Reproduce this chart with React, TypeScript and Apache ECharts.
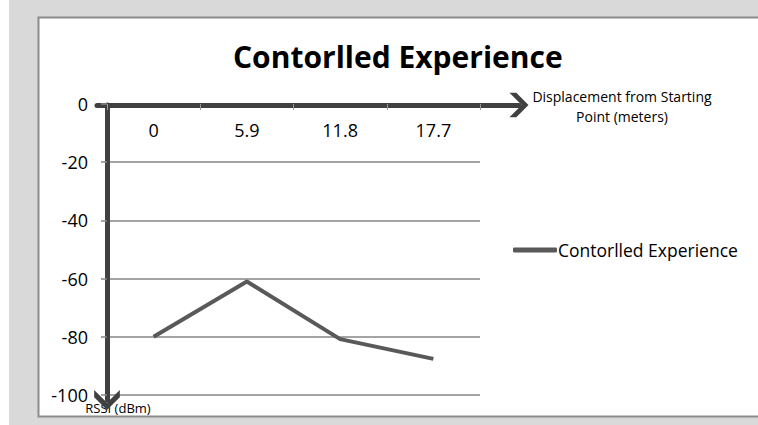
import React, { useEffect, useRef } from "react";
import * as echarts from "echarts";

const categories = ["0", "5.9", "11.8", "17.7"];
const rssiValues = [-80, -61, -80.8, -87.6];
const seriesName = "Contorlled Experience";
const titleText = "Contorlled Experience";
const xAxisName = "Displacement from Starting\nPoint (meters)";
const yAxisName = "RSSI (dBm)";

const FONT = "Open Sans";
const CHEVRON = "path://M50,0 L100,50 L100,78 L50,28 L0,78 L0,50 Z";

export default function App() {
  const ref = useRef<HTMLDivElement>(null);
  useEffect(() => {
    const chart = echarts.init(ref.current!, undefined, { renderer: "svg" });
    const hidden = { show: false };
    chart.setOption({
      animation: false,
      backgroundColor: "#ffffff",
      textStyle: { fontFamily: FONT },
      title: {
        text: titleText,
        left: 233,
        top: 41,
        padding: 0,
        textStyle: { fontFamily: FONT, fontWeight: "bold", fontSize: 30, color: "#000" },
      },
      graphic: [
        { type: "rect", z: -10, shape: { x: 9, y: 0, width: 760, height: 425 }, style: { fill: "#d9d9d9" } },
        {
          type: "rect",
          z: -9,
          shape: { x: 38.5, y: 17.5, width: 740, height: 399 },
          style: { fill: "#ffffff", stroke: "#8c8c8c", lineWidth: 2 },
        },
        {
          type: "text",
          x: 622,
          y: 86,
          style: {
            text: xAxisName,
            font: `14px ${FONT}`,
            fill: "#000",
            align: "center",
            lineHeight: 20,
          },
        },
        {
          type: "text",
          x: 118,
          y: 401,
          style: { text: yAxisName, font: `13px ${FONT}`, fill: "#000", align: "center" },
        },
      ],
      legend: {
        data: [{ name: seriesName, icon: "roundRect" }],
        left: 508,
        top: 236,
        itemWidth: 44,
        itemHeight: 5,
        itemGap: 0,
        textStyle: { fontFamily: FONT, fontSize: 17.5, color: "#000", padding: [0, 0, 0, -4] },
      },
      grid: [
        { left: 107, right: 278, top: 104, bottom: 30 },
        { left: 97, right: 239, top: 105, height: 10 },
        { left: 107, width: 10, top: 105, bottom: 25 },
      ],
      xAxis: [
        {
          gridIndex: 0,
          type: "category",
          data: categories,
          position: "top",
          boundaryGap: true,
          axisLine: { show: false, onZero: false },
          axisTick: { show: true, inside: true, length: 6, lineStyle: { color: "#9a9a9a", width: 1 } },
          axisLabel: { inside: true, margin: 17, fontFamily: FONT, fontSize: 18, color: "#000" },
          splitLine: hidden,
        },
        {
          gridIndex: 1,
          type: "value",
          min: 0,
          max: 1,
          position: "top",
          axisLine: {
            show: true,
            onZero: false,
            symbol: ["none", CHEVRON],
            symbolSize: [27, 19],
            lineStyle: { color: "#404040", width: 5, cap: "round" },
          },
          axisTick: hidden,
          axisLabel: hidden,
          splitLine: hidden,
        },
        { gridIndex: 2, type: "value", min: 0, max: 1, show: false },
      ],
      yAxis: [
        {
          gridIndex: 0,
          type: "value",
          min: -100,
          max: 0,
          interval: 20,
          axisLine: { show: false, onZero: false },
          axisTick: { show: true, length: 6, lineStyle: { color: "#868686", width: 1.5 } },
          axisLabel: { margin: 19, fontFamily: FONT, fontSize: 18, color: "#000" },
          splitLine: { show: true, lineStyle: { color: "#868686", width: 1.5 } },
        },
        { gridIndex: 1, type: "value", min: 0, max: 1, show: false },
        {
          gridIndex: 2,
          type: "value",
          min: 0,
          max: 1,
          position: "left",
          axisLine: {
            show: true,
            onZero: false,
            symbol: [CHEVRON, "none"],
            symbolSize: [27, 20],
            lineStyle: { color: "#404040", width: 5, cap: "round" },
          },
          axisTick: hidden,
          axisLabel: hidden,
          splitLine: hidden,
        },
      ],
      series: [
        {
          name: seriesName,
          type: "line",
          xAxisIndex: 0,
          yAxisIndex: 0,
          data: rssiValues,
          symbol: "none",
          lineStyle: { color: "#595959", width: 4 },
          itemStyle: { color: "#595959" },
          z: 1,
        },
      ],
    });
    return () => chart.dispose();
  }, []);
  return (
    <div style={{ position: "fixed", left: 0, top: 0, width: 758, height: 425, background: "#fff" }}>
      <div ref={ref} style={{ width: 758, height: 425 }} />
    </div>
  );
}
